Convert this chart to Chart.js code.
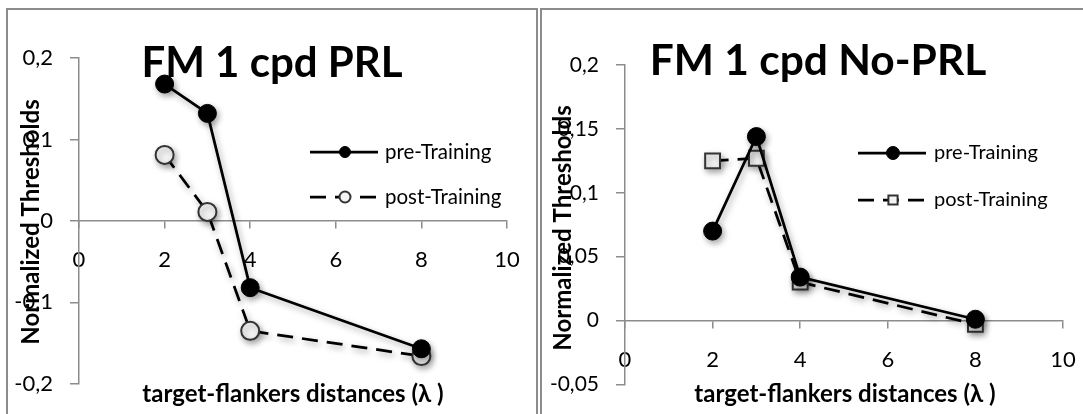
<!DOCTYPE html>
<html><head><meta charset="utf-8">
<script src="https://cdn.jsdelivr.net/npm/chart.js@4.4.1/dist/chart.umd.min.js"></script>
<style>
html,body{margin:0;padding:0;background:#fff;}
body{width:1083px;height:414px;overflow:hidden;position:relative;font-family:Lato,sans-serif;}
.panel{position:absolute;box-sizing:border-box;border:2px solid #8c8c8c;}
#p1{left:6px;top:8px;width:532px;height:440px;}
#p2{left:540px;top:8px;width:560px;height:440px;}
canvas{position:absolute;}
#c1{left:8px;top:10px;width:527px;height:404px;}
#c2{left:542px;top:10px;width:541px;height:404px;}
</style></head><body>
<div class="panel" id="p1"></div><div class="panel" id="p2"></div>
<canvas id="c1" width="527" height="404"></canvas>
<canvas id="c2" width="541" height="404"></canvas>
<script>
// ---- data ----
const distances = [2, 3, 4, 8];
const prlPre = [0.168, 0.132, -0.082, -0.157];
const prlPost = [0.081, 0.011, -0.135, -0.166];
const noPrlPre = [0.070, 0.144, 0.034, 0.001];
const noPrlPost = [0.125, 0.127, 0.030, -0.003];
const seriesNames = ['pre-Training', 'post-Training'];
const panelTitles = ['FM 1 cpd PRL', 'FM 1 cpd No-PRL'];
const xTitle = 'target-flankers distances (\u03BB )';
const yTitle = 'Normalized Thresholds';
const xRange = [0, 10, 2];
const prlYRange = [-0.2, 0.2, 0.1];
const noPrlYRange = [-0.05, 0.2, 0.05];

const AXIS = '#8c8c8c';
const fmt = v => String(Math.round(v * 100) / 100).replace('.', ',');
const pts = ys => distances.map((x, i) => ({x, y: ys[i]}));

const shadowPlugin = {
  id: 'shadowPlugin',
  beforeDatasetsDraw(chart) {
    const c = chart.ctx; c.save();
    c.shadowColor = 'rgba(0,0,0,0.35)'; c.shadowBlur = 6; c.shadowOffsetX = 2; c.shadowOffsetY = 3;
  },
  afterDatasetsDraw(chart) { chart.ctx.restore(); }
};

const overlayPlugin = {
  id: 'overlay',
  afterDraw(chart, args, o) {
    const ctx = chart.ctx;
    ctx.save();
    ctx.fillStyle = '#000';
    ctx.textAlign = 'center'; ctx.textBaseline = 'alphabetic';
    ctx.font = 'bold ' + o.titleSize + 'px Lato';
    ctx.fillText(o.title, o.titleX, o.titleY);
    ctx.font = 'bold ' + o.axisSize + 'px Lato';
    ctx.fillText(o.xTitle, o.xTitleX, o.xTitleY);
    ctx.save();
    ctx.translate(o.yTitleX, o.yTitleY); ctx.rotate(-Math.PI / 2);
    ctx.textBaseline = 'middle';
    ctx.font = 'bold ' + o.yAxisSize + 'px Lato';
    ctx.fillText(o.yTitle, 0, 0);
    ctx.restore();
    // legend
    chart.data.datasets.forEach((ds, i) => {
      const y = o.legY[i];
      ctx.save();
      ctx.strokeStyle = '#000'; ctx.lineWidth = ds.borderWidth;
      ctx.setLineDash(ds.borderDash || []);
      ctx.beginPath(); ctx.moveTo(o.legX0, y); ctx.lineTo(o.legX1, y); ctx.stroke();
      ctx.setLineDash([]);
      ctx.fillStyle = ds.pointBackgroundColor; ctx.strokeStyle = ds.pointBorderColor;
      ctx.lineWidth = ds.pointBorderWidth;
      Chart.helpers.drawPoint(ctx, {pointStyle: ds.pointStyle, radius: o.legR, borderWidth: ds.pointBorderWidth, rotation: 0}, o.legMX, y);
      ctx.restore();
      ctx.font = o.legSize + 'px Lato'; ctx.textAlign = 'left'; ctx.textBaseline = 'middle';
      ctx.fillStyle = '#000';
      ctx.fillText(ds.label, o.legTX, y);
    });
    ctx.restore();
  }
};

function makeChart(id, pre, post, postStyle, postR, yr, yFont, yWidth, pad, ov) {
  return new Chart(document.getElementById(id), {
    type: 'scatter',
    data: {datasets: [
      {label: seriesNames[0], data: pts(pre), showLine: true, borderColor: '#000', borderWidth: 2.75,
       pointStyle: 'circle', pointRadius: 9, pointBackgroundColor: '#000', pointBorderColor: '#000', pointBorderWidth: 1},
      {label: seriesNames[1], data: pts(post), showLine: true, borderColor: '#000', borderWidth: 2.75, borderDash: [16, 9],
       pointStyle: postStyle, pointRadius: postR, pointBackgroundColor: '#f4f4f4', pointBorderColor: '#333', pointBorderWidth: 2}
    ]},
    options: {
      responsive: false, animation: false, devicePixelRatio: 1,
      layout: {padding: pad},
      plugins: {legend: {display: false}, tooltip: {enabled: false}, title: {display: false}, overlay: ov},
      scales: {
        x: {type: 'linear', position: {y: 0}, min: xRange[0], max: xRange[1],
            afterFit: s => { s.paddingLeft = 0; s.paddingRight = 0; },
            ticks: {stepSize: xRange[2], color: '#000', font: {family: 'Lato', size: 22}, padding: 19},
            grid: {drawOnChartArea: false, drawTicks: true, tickLength: 7, color: AXIS, lineWidth: 1.5},
            border: {color: AXIS, width: 1.5}},
        y: {type: 'linear', position: 'left', min: yr[0], max: yr[1],
            afterFit: s => { s.width = yWidth; },
            ticks: {stepSize: yr[2], color: '#000', font: {family: 'Lato', size: yFont}, padding: 17, callback: v => fmt(v)},
            grid: {drawOnChartArea: false, drawTicks: true, tickLength: 9, color: AXIS, lineWidth: 1.5},
            border: {color: AXIS, width: 1.5}}
      }
    },
    plugins: [shadowPlugin, overlayPlugin]
  });
}

makeChart('c1', prlPre, prlPost, 'circle', 9, prlYRange, 22, 71,
  {left: 0, right: 28, top: 48, bottom: 27},
  {title: panelTitles[0], titleSize: 42, titleX: 264, titleY: 67,
   xTitle: xTitle, axisSize: 24, xTitleX: 285, xTitleY: 392,
   yTitle: yTitle, yAxisSize: 24, yTitleX: 23, yTitleY: 212,
   legY: [142, 187], legX0: 302, legX1: 370, legMX: 337, legR: 5.5, legTX: 377, legSize: 20.5});

makeChart('c2', noPrlPre, noPrlPost, 'rect', 10.5, noPrlYRange, 21, 83,
  {left: 0, right: 20, top: 55, bottom: 24},
  {title: panelTitles[1], titleSize: 42.5, titleX: 276, titleY: 65,
   xTitle: xTitle, axisSize: 24, xTitleX: 303, xTitleY: 392,
   yTitle: yTitle, yAxisSize: 24, yTitleX: 21, yTitleY: 218,
   legY: [143, 190], legX0: 316, legX1: 384, legMX: 351, legR: 6.5, legTX: 392, legSize: 20});
</script>
</body></html>
